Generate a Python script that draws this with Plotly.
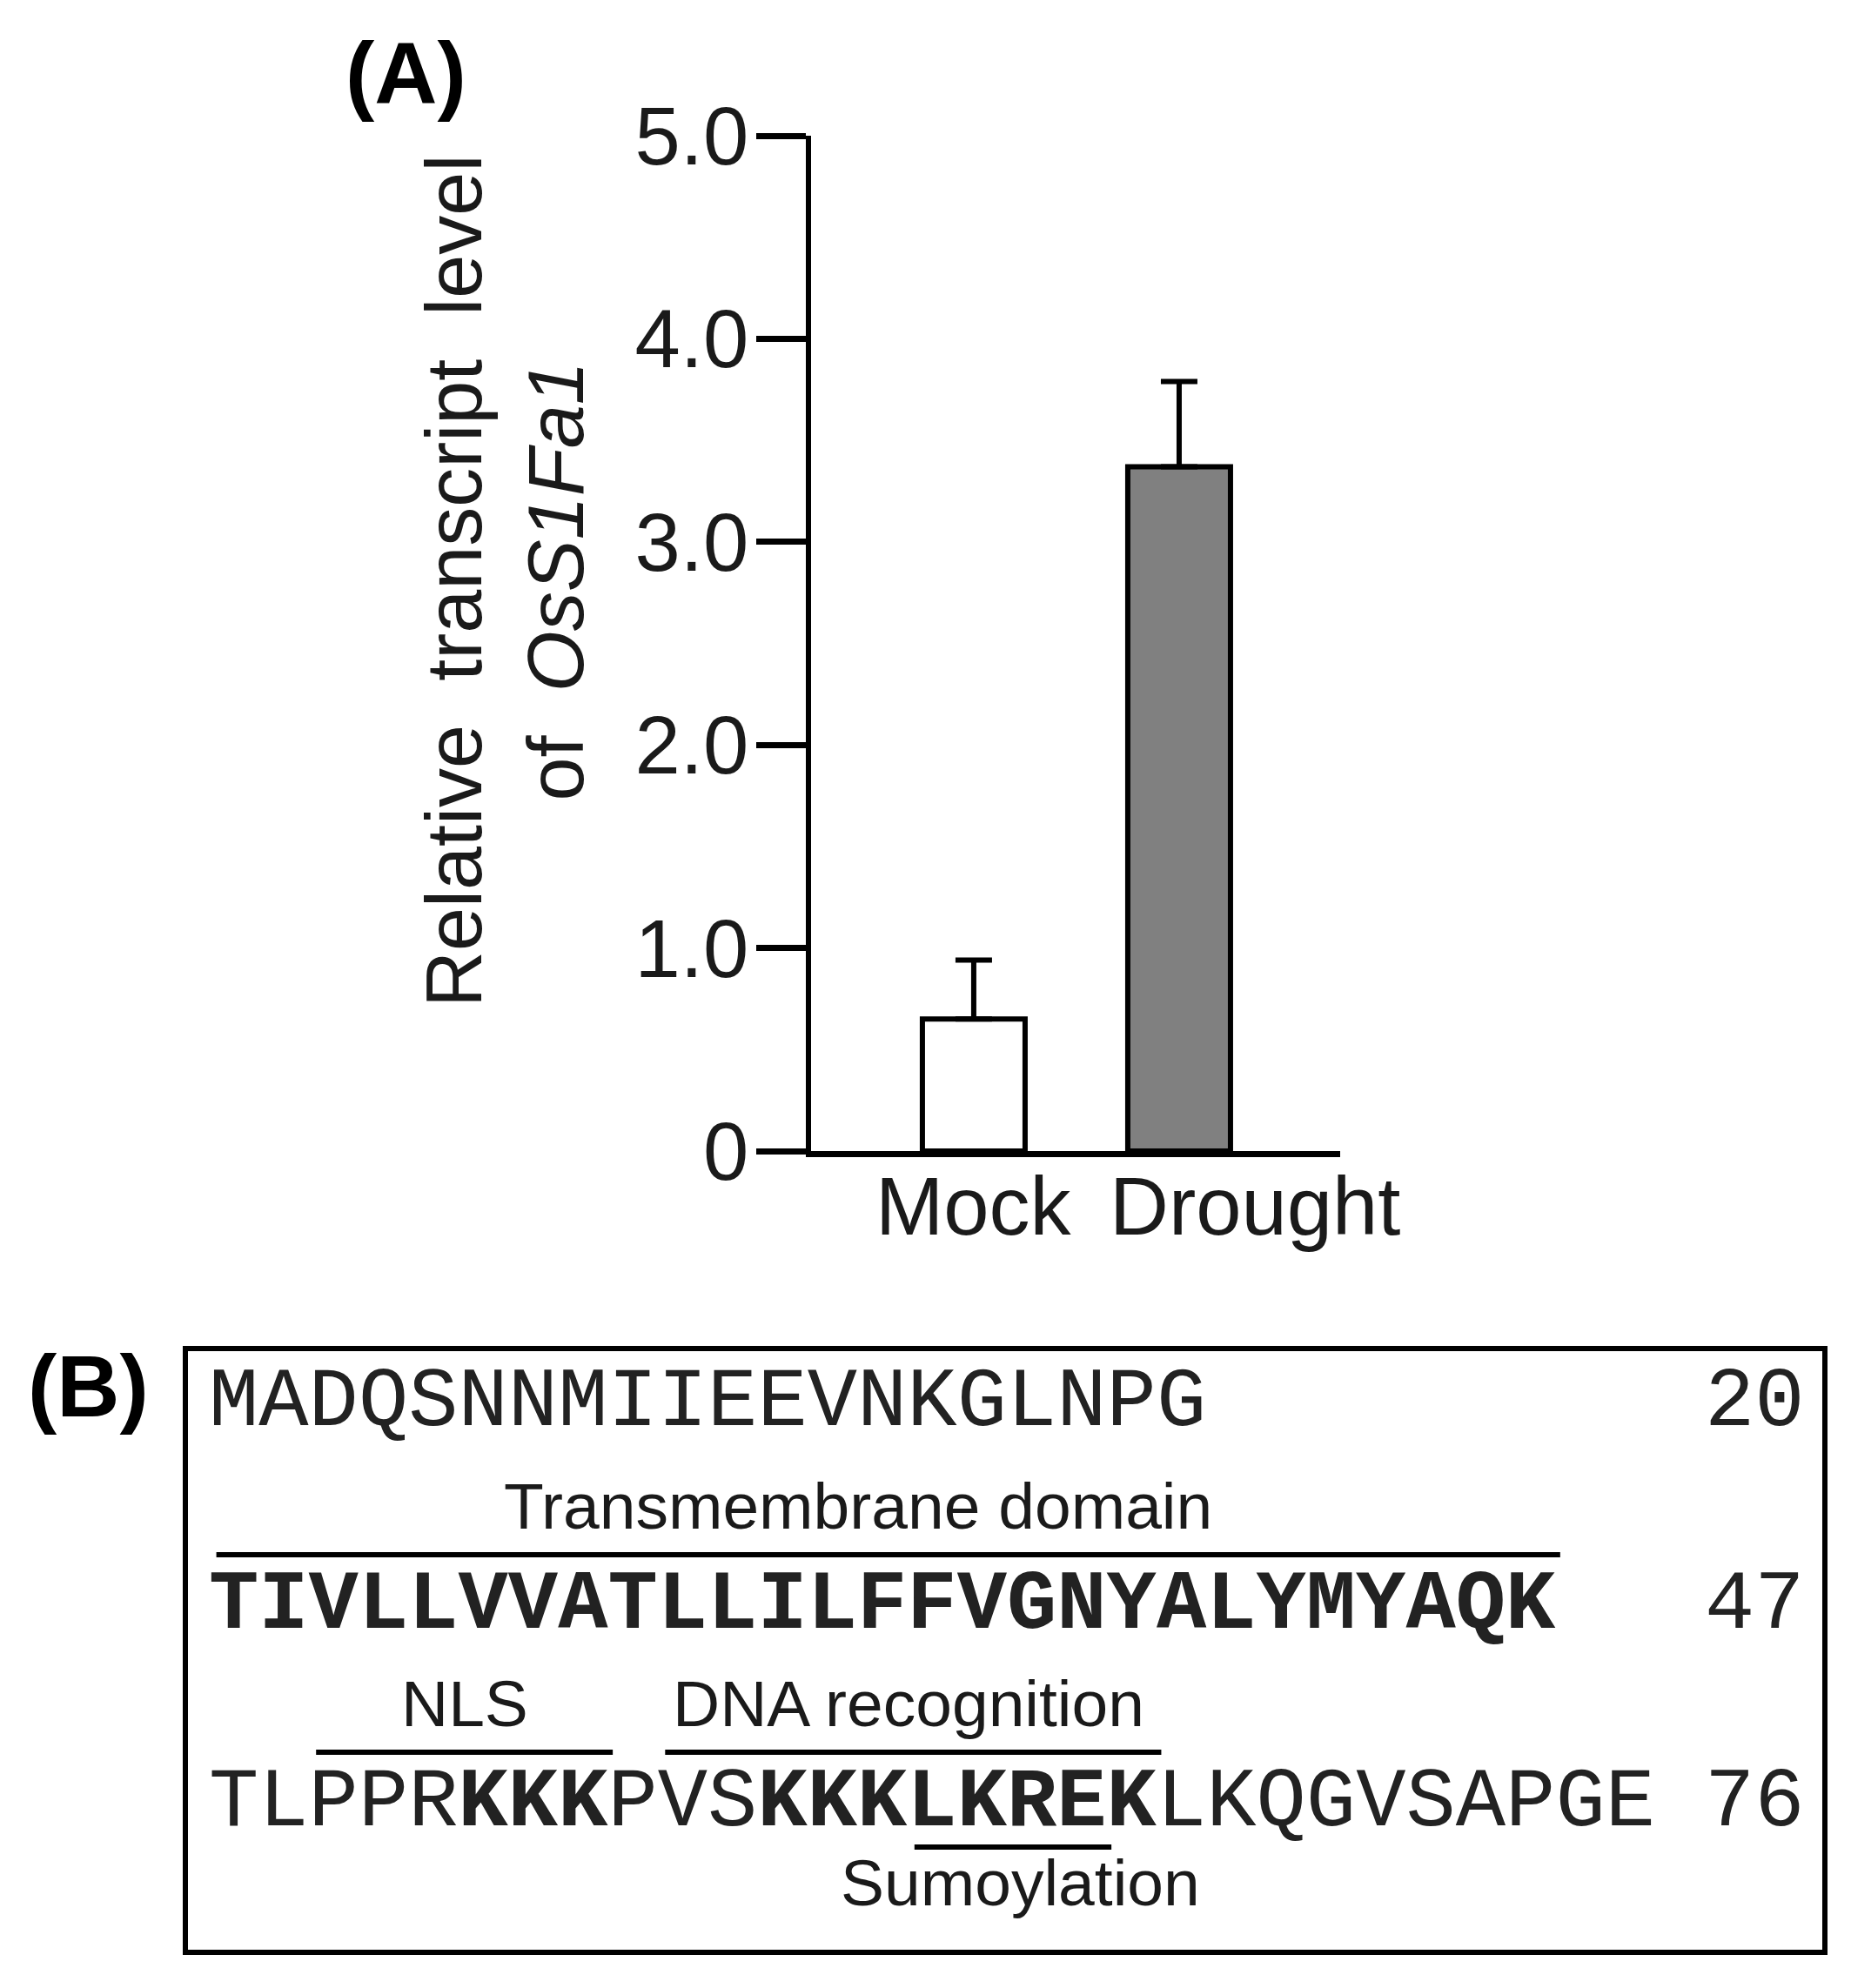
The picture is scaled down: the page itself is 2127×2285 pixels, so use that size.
import plotly.graph_objects as go

# ---------------- data ----------------
conditions = ["Mock", "Drought"]
transcript_level = [0.65, 3.37]
error_upper = [0.29, 0.42]
bar_colors = ["#ffffff", "#808080"]
y_tick_values = [0, 1, 2, 3, 4, 5]
y_tick_labels = ["0", "1.0", "2.0", "3.0", "4.0", "5.0"]

seq_lines = ["MADQSNNMIIEEVNKGLNPG",
             "TIVLLVVATLLILFFVGNYALYMYAQK",
             "TLPPRKKKPVSKKKLKREKLKQGVSAPGE"]
seq_line_end = [20, 47, 76]
bold_residues = [(21, 47), (53, 55), (59, 66)]   # 1-based inclusive
domain_names = ["Transmembrane domain", "NLS", "DNA recognition", "Sumoylation"]
domain_start = [21, 50, 57, 62]
domain_end = [47, 55, 66, 65]
domain_label_side = ["above", "above", "above", "below"]

# ---------------- figure ----------------
W, H = 2127, 2285
SANS = "Liberation Sans, Arial, sans-serif"
MONO = "Liberation Mono, Courier New, monospace"
TXT = "#1a1a1a"

fig = go.Figure()

fig.add_trace(go.Bar(
    x=conditions, y=transcript_level, width=[0.5, 0.5],
    marker=dict(color=bar_colors, line=dict(color="black", width=6)),
    error_y=dict(type="data", symmetric=False, array=error_upper,
                 arrayminus=[0] * len(error_upper), color="black",
                 thickness=6, width=21),
    showlegend=False, hoverinfo="x+y",
))

def px_x(p):
    return p / W

def px_y(p):
    return 1 - p / H

fig.update_layout(
    width=W, height=H,
    margin=dict(l=0, r=0, t=0, b=0, pad=0, autoexpand=False),
    paper_bgcolor="white", plot_bgcolor="white",
    xaxis=dict(domain=[px_x(932), px_x(1540)], range=[-0.792, 1.784],
               type="category", showline=True, linewidth=7, linecolor="black",
               ticks="", showticklabels=False, showgrid=False, zeroline=False,
               automargin=False, fixedrange=True),
    yaxis=dict(domain=[px_y(1323), px_y(156)], range=[0, 5],
               tickmode="array", tickvals=y_tick_values, ticktext=y_tick_labels,
               ticks="outside", ticklen=57, tickwidth=7, tickcolor="black",
               ticklabelstandoff=-10,
               showline=True, linewidth=6, linecolor="black",
               showgrid=False, zeroline=False, automargin=False,
               tickfont=dict(family=SANS, size=94, color=TXT),
               fixedrange=True),
)

annotations = []
# category labels (Drought label sits offset to the right in the original)
label_shift = [0, 87]
for c, s in zip(conditions, label_shift):
    annotations.append(dict(x=c, y=px_y(1386), xref="x", yref="paper",
                            text=c, showarrow=False, xshift=s,
                            xanchor="center", yanchor="middle",
                            font=dict(family=SANS, size=94, color=TXT)))
# y axis title
annotations.append(dict(
    x=px_x(581), y=px_y(668), xref="paper", yref="paper", textangle=-90,
    text="Relative\u00a0\u00a0transcript\u00a0\u00a0level<br>of\u00a0\u00a0<i>OsS1Fa1</i>",
    showarrow=False, xanchor="center", yanchor="middle", align="center",
    font=dict(family=SANS, size=90, color=TXT)))
# panel letters
annotations.append(dict(x=px_x(466), y=px_y(84), xref="paper", yref="paper",
                        text="<b>(A)</b>", showarrow=False,
                        xanchor="center", yanchor="middle",
                        font=dict(family=SANS, size=100, color="black")))
annotations.append(dict(x=px_x(101), y=px_y(1593), xref="paper", yref="paper",
                        text="<b>(B)</b>", showarrow=False,
                        xanchor="center", yanchor="middle",
                        font=dict(family=SANS, size=100, color="black")))

# ---------------- panel B ----------------
col_px = 57.3
col0_px = 240
box = (216, 1553, 2094, 2241)
fig.update_layout(
    xaxis2=dict(domain=[px_x(box[0]), px_x(box[2])], anchor="y2",
                range=[(box[0] - col0_px) / col_px, (box[2] - col0_px) / col_px],
                showline=True, mirror=True, linewidth=6, linecolor="black",
                ticks="", showticklabels=False, showgrid=False, zeroline=False,
                automargin=False, fixedrange=True),
    yaxis2=dict(domain=[px_y(box[3]), px_y(box[1])], anchor="x2",
                range=[box[3] - box[1], 0],
                showline=True, mirror=True, linewidth=6, linecolor="black",
                ticks="", showticklabels=False, showgrid=False, zeroline=False,
                automargin=False, fixedrange=True),
)
# invisible trace to activate the second axes
fig.add_trace(go.Scatter(x=[0], y=[0], xaxis="x2", yaxis="y2", mode="markers",
                         marker=dict(opacity=0), showlegend=False, hoverinfo="skip"))

row_y = [59, 292, 519]
line_start_res = [1, 21, 48]
label_col_offset = [-0.6, 0.0, -0.1, 0.15]

def res_to_rowcol(r):
    for i in range(len(seq_lines) - 1, -1, -1):
        if r >= line_start_res[i]:
            return i, r - line_start_res[i]
    return 0, r - 1

def is_bold(r):
    return any(a <= r <= b for a, b in bold_residues)

for i, line in enumerate(seq_lines):
    parts = []
    cur_bold = None
    buf = ""
    for j, ch in enumerate(line):
        b = is_bold(line_start_res[i] + j)
        if cur_bold is None or b == cur_bold:
            buf += ch
        else:
            parts.append(f"<b>{buf}</b>" if cur_bold else buf)
            buf = ch
        cur_bold = b
    parts.append(f"<b>{buf}</b>" if cur_bold else buf)
    annotations.append(dict(x=0, y=row_y[i], xref="x2", yref="y2",
                            text="".join(parts), showarrow=False,
                            xanchor="left", yanchor="middle",
                            borderpad=0, borderwidth=0,
                            font=dict(family=MONO, size=95.5, color="#222222")))
    annotations.append(dict(x=32, y=row_y[i], xref="x2", yref="y2",
                            text=str(seq_line_end[i]), showarrow=False,
                            xanchor="right", yanchor="middle",
                            borderpad=0, borderwidth=0,
                            font=dict(family=MONO, size=95.5, color="#222222")))

shapes = []
for name, s, e, side, dx in zip(domain_names, domain_start, domain_end,
                                domain_label_side, label_col_offset):
    row, c0 = res_to_rowcol(s)
    _, c1 = res_to_rowcol(e)
    x0, x1 = c0 + 0.15, c1 + 1.1
    if side == "above":
        ly, ty = row_y[row] - 58, row_y[row] - 114
    else:
        ly, ty = row_y[row] + 51, row_y[row] + 92
    shapes.append(dict(type="line", xref="x2", yref="y2", x0=x0, x1=x1,
                       y0=ly, y1=ly, line=dict(color="black", width=6)))
    annotations.append(dict(x=(x0 + x1) / 2 + dx, y=ty, xref="x2", yref="y2",
                            text=name, showarrow=False,
                            xanchor="center", yanchor="middle",
                            borderpad=0, borderwidth=0,
                            font=dict(family=SANS, size=75, color=TXT)))

fig.update_layout(annotations=annotations, shapes=shapes)

fig.write_html("out.html", config={"displayModeBar": False},
               post_script="document.body.style.margin='0px';document.body.style.overflow='hidden';")
